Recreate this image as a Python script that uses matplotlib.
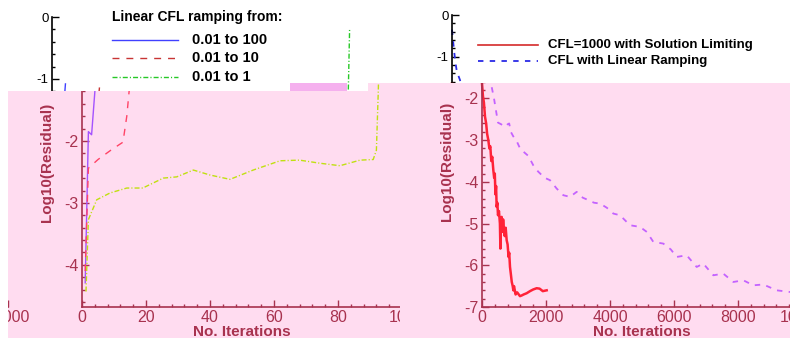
import matplotlib
matplotlib.use('Agg')
import matplotlib.pyplot as plt
from matplotlib.patches import Polygon, Rectangle
from matplotlib.text import Text
from matplotlib.ticker import MultipleLocator
from matplotlib.transforms import Bbox, TransformedBbox

plt.rcParams['font.family'] = 'Liberation Sans'
plt.rcParams['axes.unicode_minus'] = False

# left panel: linear CFL ramping
iters_100 = [1, 2, 3, 4.2]
res_100 = [-4.29, -1.85, -1.9, -1.08]
iters_10 = [1, 2, 5, 9, 12.8, 14, 14.9]
res_10 = [-4.1, -2.44, -2.3, -2.15, -2.02, -1.6, -1.1]
iters_1 = [1.25, 2, 4.6, 8.75, 14, 19, 25.4, 29.6, 34.8, 40, 46.25, 53.5, 61.9, 68,
           74.4, 80.6, 86.9, 91, 92, 92.6, 93]
res_1 = [-4.43, -3.27, -2.95, -2.84, -2.76, -2.76, -2.6, -2.58, -2.47, -2.55, -2.62,
         -2.47, -2.32, -2.31, -2.36, -2.40, -2.31, -2.30, -2.15, -1.18, -0.2]
left_title = 'Linear CFL ramping from:'
left_labels = ['0.01 to 100', '0.01 to 10', '0.01 to 1']

# right panel: solution limiting vs linear ramping
iters_limit = [0, 30, 60, 94, 130, 160, 198, 230, 260, 290, 320, 354, 380, 400, 420,
               440, 458, 480, 500, 530, 560, 575, 590, 615, 640, 660, 688, 710, 740,
               771, 800, 830, 850, 875, 900, 930, 960, 979, 1000, 1050, 1100, 1187,
               1250, 1300, 1396, 1500, 1600, 1708, 1800, 1900, 2021]
res_limit = [-1.64, -1.95, -2.1, -2.44, -2.6, -2.85, -3.0, -3.2, -3.15, -3.5, -3.4,
             -3.72, -3.9, -3.8, -4.3, -4.1, -4.6, -4.5, -4.8, -4.7, -5.0, -5.6, -4.9,
             -4.84, -5.2, -4.9, -5.16, -5.3, -5.1, -5.4, -5.5, -5.8, -5.7, -6.04,
             -6.2, -6.4, -6.5, -6.6, -6.5, -6.7, -6.65, -6.74, -6.72, -6.7, -6.67,
             -6.62, -6.58, -6.55, -6.56, -6.62, -6.6]
iters_ramp = [0, 50, 100, 150, 250, 312, 375, 450, 500, 600, 720, 800, 850, 900, 970,
              1100, 1190, 1300, 1450, 1600, 1750, 1950, 2125, 2333, 2541, 2750, 2958,
              3150, 3333, 3500, 3687, 3900, 4104, 4312, 4625, 4938, 5150, 5354, 5666,
              5900, 6083, 6396, 6708, 6916, 7229, 7541, 7854, 8166, 8479, 8791, 9208,
              9625, 10000]
res_ramp = [-0.35, -0.75, -1.1, -1.35, -1.56, -1.76, -2.0, -2.35, -2.58, -2.62, -2.68,
            -2.62, -2.6, -2.8, -2.9, -3.05, -3.2, -3.28, -3.38, -3.6, -3.75, -3.9,
            -3.96, -4.16, -4.32, -4.36, -4.24, -4.38, -4.44, -4.5, -4.52, -4.62, -4.76,
            -4.8, -5.04, -5.08, -5.2, -5.44, -5.48, -5.62, -5.8, -5.76, -6.04, -5.96,
            -6.24, -6.2, -6.4, -6.36, -6.48, -6.46, -6.6, -6.64, -6.7]
right_labels = ['CFL=1000 with Solution Limiting', 'CFL with Linear Ramping']

W, H = 790, 342
# the strip above the pink band is the same chart moved left,
# and the pink band itself wraps round on the left edge
SHIFT = -30
WRAP = -794

normal = dict(z=0, fg='black', blue='#4040ff', red10='#c83434', green='#26c826',
              limit='#d42a2a', ramp='#2a2ae6', tick=9.5)
tinted = dict(z=2, fg='#a8324f', blue='#a452ff', red10='#ff4466', green='#c0e010',
              limit='#ff2238', ramp='#c462ff', tick=11.5)

fig = plt.figure(figsize=(W / 100, H / 100), dpi=100)
panels = []


def px_box(x0, y0, x1, y1):
    # pixel box, origin top left
    return TransformedBbox(Bbox.from_extents(x0 / W, 1 - y1 / H, x1 / W, 1 - y0 / H),
                           fig.transFigure)


def panel(kind, pal, dx, box):
    if kind == 'left':
        x0, top = 82, 17
    else:
        x0, top = 482, 15
    ax = fig.add_axes([(x0 + dx) / W, 1 - 307 / H, 320 / W, (307 - top) / H],
                      zorder=pal['z'])
    ax.set_facecolor('none')

    if kind == 'left':
        ax.plot(iters_100, res_100, color=pal['blue'], lw=1)
        ax.plot(iters_10, res_10, color=pal['red10'], lw=1, dashes=(5, 5))
        ax.plot(iters_1, res_1, color=pal['green'], lw=1, dashes=(3.6, 1.5, 0.8, 1.5))
        ax.set_xlim(0, 100)
        ax.set_ylim(-4.68, 0)
        ax.xaxis.set_major_locator(MultipleLocator(20))
        ax.xaxis.set_minor_locator(MultipleLocator(4))
        ax.yaxis.set_major_locator(MultipleLocator(1))
        ax.yaxis.set_minor_locator(MultipleLocator(0.2))
        # legend drawn by hand
        ax.text(0.1875, 1.0, left_title, transform=ax.transAxes, ha='left', va='center',
                fontsize=10, fontweight='bold', color=pal['fg'])
        styles = [dict(color=pal['blue']),
                  dict(color=pal['red10'], dashes=(5, 5)),
                  dict(color=pal['green'], dashes=(3.6, 1.5, 0.8, 1.5))]
        for y, lab, st in zip([0.921, 0.859, 0.793], left_labels, styles):
            ax.plot([0.1875, 0.394], [y, y], transform=ax.transAxes, lw=1, **st)
            ax.text(0.4375, y, lab, transform=ax.transAxes, ha='left', va='center',
                    fontsize=10.5, fontweight='bold', color=pal['fg'])
    else:
        ax.plot(iters_limit, res_limit, color=pal['limit'], lw=1.8)
        ax.plot(iters_ramp, res_ramp, color=pal['ramp'], lw=1.3, dashes=(3, 3.5))
        ax.set_xlim(0, 10000)
        ax.set_ylim(-7, 0)
        ax.xaxis.set_major_locator(MultipleLocator(2000))
        ax.xaxis.set_minor_locator(MultipleLocator(400))
        ax.yaxis.set_major_locator(MultipleLocator(1))
        ax.yaxis.set_minor_locator(MultipleLocator(0.2))
        styles = [dict(color=pal['limit'], lw=1.2),
                  dict(color=pal['ramp'], lw=1.3, dashes=(3, 3.5))]
        for y, lab, st in zip([0.897, 0.842], right_labels, styles):
            ax.plot([0.081, 0.269], [y, y], transform=ax.transAxes, **st)
            ax.text(0.30, y, lab, transform=ax.transAxes, ha='left', va='center',
                    fontsize=9.5, fontweight='bold', color=pal['fg'])

    ax.spines[['top', 'right']].set_visible(False)
    for s in ['left', 'bottom']:
        ax.spines[s].set_color(pal['fg'])
        ax.spines[s].set_linewidth(1.2)
    ax.tick_params(which='both', direction='in', colors=pal['fg'],
                   labelsize=pal['tick'], width=1, pad=2.5)
    ax.tick_params(which='major', length=5)
    ax.tick_params(which='minor', length=2.5)
    ax.set_xlabel('No. Iterations', fontsize=11, fontweight='bold', color=pal['fg'],
                  labelpad=0)
    ax.set_ylabel('Log10(Residual)', fontsize=11, fontweight='bold', color=pal['fg'],
                  labelpad=7)

    for a in ax.findobj():
        a.set_clip_box(box)
        a.set_clip_on(True)
    panels.append((ax, box))
    return ax


# top strip, normal colours
panel('left', normal, SHIFT, px_box(0, 0, W, 91))
panel('right', normal, SHIFT, px_box(0, 0, W, 91))

# pink band
band = [(8, 338), (8, 91), (368, 91), (368, 83), (W, 83), (W, 338)]
fig.add_artist(Polygon([(x / W, 1 - y / H) for x, y in band], closed=True,
                       transform=fig.transFigure, facecolor='#ffdcf0',
                       edgecolor='none', zorder=1))
fig.add_artist(Rectangle((290 / W, 1 - 91 / H), 57 / W, 8 / H,
                         transform=fig.transFigure, facecolor='#f5b0ee',
                         edgecolor='none', zorder=1))

# pink band, tinted colours
panel('left', tinted, 0, px_box(8, 91, 400, 338))
panel('left', tinted, 0, px_box(368, 83, 400, 91))
panel('right', tinted, 0, px_box(400, 83, W, 338))
panel('right', tinted, WRAP, px_box(8, 91, 60, 338))

# texts that fall wholly outside their copy's box would be clipped away anyway
fig.canvas.draw()
for ax, box in panels:
    for t in ax.findobj(Text):
        if t.get_text() and not t.get_window_extent().overlaps(box):
            t.set_visible(False)

fig.savefig('out.png', dpi=100)
